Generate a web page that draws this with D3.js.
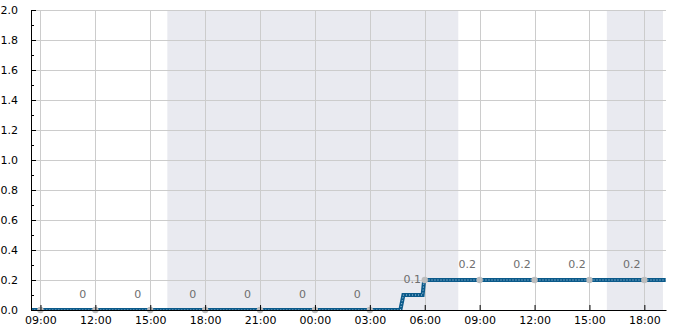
<!DOCTYPE html>
<html><head><meta charset="utf-8">
<script src="https://cdn.jsdelivr.net/npm/d3@7"></script>
<style>
body{margin:0;background:#fff;}
svg{display:block;font-family:"DejaVu Sans",sans-serif;}
</style></head>
<body><svg id="c" width="685" height="330"></svg>
<script>
// ---- data ----
const domainTimes = ["2024-01-01T08:29", "2024-01-02T19:11"];
const lineTimes = ["2024-01-01T08:30", "2024-01-02T04:40", "2024-01-02T04:50", "2024-01-02T05:53", "2024-01-02T05:58", "2024-01-02T19:10"];
const lineValues = [0, 0, 0.1, 0.1, 0.2, 0.2];
const pointTimes = ["2024-01-01T09:00","2024-01-01T12:00","2024-01-01T15:00","2024-01-01T18:00","2024-01-01T21:00","2024-01-02T00:00","2024-01-02T03:00","2024-01-02T06:00","2024-01-02T09:00","2024-01-02T12:00","2024-01-02T15:00","2024-01-02T18:00"];
const pointValues = [0,0,0,0,0,0,0,0.2,0.2,0.2,0.2,0.2];
const pointLabels = [null,"0","0","0","0","0","0","0.1","0.2","0.2","0.2","0.2"];
const labelValues = [null,0,0,0,0,0,0,0.1,0.2,0.2,0.2,0.2];
const shadeStarts = ["2024-01-01T15:56", "2024-01-02T15:57"];
const shadeEnds = ["2024-01-02T07:50", "2024-01-02T19:01"];
const yTicks = [0,0.2,0.4,0.6,0.8,1.0,1.2,1.4,1.6,1.8,2.0];
const yMinorTicks = [0.1,0.3,0.5,0.7,0.9,1.1,1.3,1.5,1.7,1.9];

const P = d3.timeParse("%Y-%m-%dT%H:%M");
const W = 685, H = 330;
const m = {left:31, right:19, top:10, bottom:20};
const svg = d3.select("#c");
const x = d3.scaleTime().domain(domainTimes.map(P)).range([m.left, W - m.right]);
const y = d3.scaleLinear().domain([0, 2]).range([H - m.bottom, m.top]);

svg.append("defs").append("clipPath").attr("id","clip")
  .append("rect").attr("x", m.left).attr("y", m.top).attr("width", W-m.left-m.right).attr("height", H-m.top-m.bottom);

// shading
svg.append("g").selectAll("rect").data(shadeStarts.map((s,i)=>[P(s),P(shadeEnds[i])]))
  .join("rect")
  .attr("x", d=>x(d[0])).attr("width", d=>x(d[1])-x(d[0]))
  .attr("y", m.top).attr("height", H-m.top-m.bottom)
  .attr("fill", "#e9eaf0");

// grid
const xTickVals = pointTimes.map(P);
svg.append("g").selectAll("line").data(xTickVals).join("line")
  .attr("x1", d=>Math.round(x(d))+0.5).attr("x2", d=>Math.round(x(d))+0.5)
  .attr("y1", m.top).attr("y2", H-m.bottom)
  .attr("stroke", "#cccccc").attr("stroke-width", 1);
svg.append("g").selectAll("line").data(yTicks).join("line")
  .attr("x1", m.left).attr("x2", W-m.right)
  .attr("y1", d=>Math.round(y(d))+0.5).attr("y2", d=>Math.round(y(d))+0.5)
  .attr("stroke", "#cccccc").attr("stroke-width", 1);

// line
const lineData = lineTimes.map((t,i)=>[P(t), lineValues[i]]);
const line = d3.line().x(d=>x(d[0])).y(d=>y(d[1]));
const lg = svg.append("g").attr("clip-path","url(#clip)");
lg.append("path").datum(lineData).attr("d", line)
  .attr("fill","none").attr("stroke","#0b5a8a").attr("stroke-width",4).attr("stroke-linejoin","miter");
lg.append("path").datum(lineData).attr("d", line)
  .attr("fill","none").attr("stroke","#b8d4ea").attr("stroke-width",1).attr("stroke-dasharray","1,2");

// markers
svg.append("g").selectAll("circle").data(pointTimes.map((t,i)=>[P(t), pointValues[i]]))
  .join("circle")
  .attr("cx", d=>x(d[0])).attr("cy", d=>y(d[1])).attr("r", 3.2)
  .attr("fill", "#bdbdbd");

// point labels
svg.append("g").selectAll("text").data(pointTimes.map((t,i)=>[P(t), labelValues[i], pointLabels[i]]).filter(d=>d[2]!==null))
  .join("text")
  .attr("x", d=>x(d[0]) - 12.5).attr("y", d=>y(d[1]) - 12.5)
  .attr("text-anchor","middle").attr("font-size", 11).attr("fill", "#6e6e6e")
  .text(d=>d[2]);

// axes
const xAxis = d3.axisBottom(x).tickValues(xTickVals).tickFormat(d3.timeFormat("%H:%M")).tickSizeInner(-5).tickSizeOuter(0).tickPadding(6);
const gx = svg.append("g").attr("transform", `translate(0,${H-m.bottom})`).call(xAxis);
gx.selectAll("text").attr("font-size", 11).attr("fill","#000").attr("font-family","DejaVu Sans");
gx.selectAll("line").attr("stroke","#000");
gx.select(".domain").attr("stroke","#000");

const yAxis = d3.axisLeft(y).tickValues(yTicks).tickFormat(d3.format(".1f")).tickSizeInner(-5).tickSizeOuter(0).tickPadding(13);
const gy = svg.append("g").attr("transform", `translate(${m.left},0)`).call(yAxis);
gy.selectAll("text").attr("font-size", 11).attr("fill","#000").attr("font-family","DejaVu Sans");
gy.selectAll("line").attr("stroke","#000");
gy.select(".domain").attr("stroke","#000");
svg.append("g").selectAll("line").data(yMinorTicks).join("line")
  .attr("x1", m.left).attr("x2", m.left+3)
  .attr("y1", d=>Math.round(y(d))+0.5).attr("y2", d=>Math.round(y(d))+0.5)
  .attr("stroke","#000");
</script></body></html>
